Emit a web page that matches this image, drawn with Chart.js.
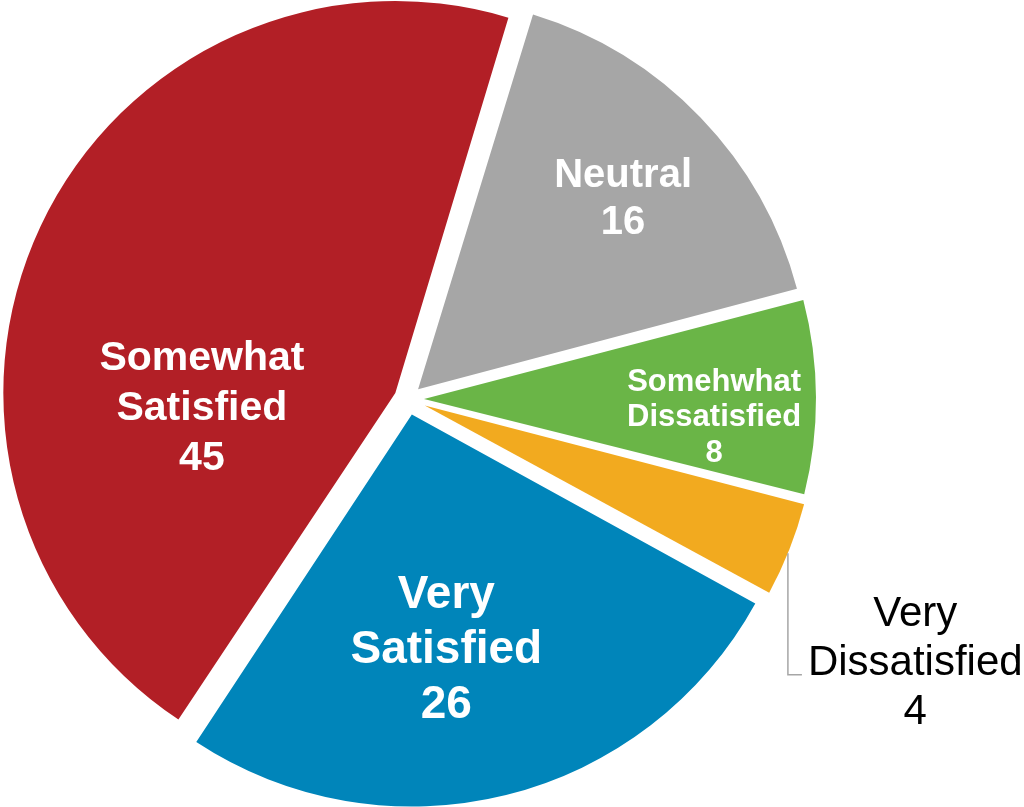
<!DOCTYPE html>
<html lang="en">
<head>
  <meta charset="UTF-8">
  <title>Satisfaction</title>
  <style>
    body, html {
      width: 100%;
      height: 100%;
      margin: 0;
      background-color: #ffffff;
      overflow: hidden;
    }

    #chart-container {
      width: 1024px;
      height: 807px;
    }
  </style>
</head>
<body>
  <div id="chart-container">
    <canvas id="satisfactionChart"></canvas>
  </div>

  <script src="https://cdn.jsdelivr.net/npm/chart.js"></script>
  <script>
    // slices run clockwise starting just right of 12 o'clock
    const categories = [
      ['Neutral'],
      ['Somehwhat', 'Dissatisfied'],
      ['Very', 'Dissatisfied'],
      ['Very', 'Satisfied'],
      ['Somewhat', 'Satisfied']
    ];
    const counts = [16, 8, 4, 26, 45];
    const sliceColors = ['#A6A6A6', '#6AB547', '#F2AA1F', '#0085BA', '#B21F26'];

    // explode distance per slice (arc moves out by offset / 4)
    const sliceOffsets = [56, 64, 72, 64, 56];
    const PIE_RADIUS = 392;

    // label placement: [angle from top in degrees, radius as fraction of pie radius]
    const labelPlacement = [[46.7, 0.754], [93.0, 0.782], [117.2, 1.455], [171.2, 0.639], [268.2, 0.526]];
    const labelStyle = [
      { size: 40, lineHeight: 47, bold: true, color: '#fff' },
      { size: 31, lineHeight: 35.5, bold: true, color: '#fff' },
      { size: 42, lineHeight: 49, bold: false, color: '#000' },
      { size: 46, lineHeight: 55, bold: true, color: '#fff' },
      { size: 41, lineHeight: 50, bold: true, color: '#fff' }
    ];

    // chart.js also grows narrow exploded slices outward; pull them back so all share one radius
    const evenRadius = {
      id: 'evenRadius',
      afterDatasetUpdate(chart, args) {
        const meta = args.meta;
        meta.data.forEach((arc, i) => {
          const t = (sliceOffsets[i] || 0) / 4;
          const fix = 1 - Math.sin(Math.min(Math.PI, arc.circumference || 0));
          arc.outerRadius = PIE_RADIUS - t * fix;
        });
      }
    };

    const sliceLabels = {
      id: 'sliceLabels',
      afterDatasetsDraw(chart) {
        const ctx = chart.ctx;
        const meta = chart.getDatasetMeta(0);
        const values = chart.data.datasets[0].data;
        const radius = meta.controller.outerRadius;
        ctx.save();
        meta.data.forEach((arc, i) => {
          const [deg, frac] = labelPlacement[i];
          const a = deg * Math.PI / 180;
          const r = radius * frac;
          const x = arc.x + r * Math.sin(a);
          const y = arc.y - r * Math.cos(a);
          const st = labelStyle[i];
          const lines = chart.data.labels[i].concat([String(values[i])]);
          const cap = st.size * 0.716;
          ctx.font = (st.bold ? 'bold ' : '') + st.size + 'px "Liberation Sans", Arial, sans-serif';
          ctx.fillStyle = st.color;
          ctx.textAlign = 'center';
          ctx.textBaseline = 'alphabetic';
          let widest = 0;
          lines.forEach((line, k) => {
            const by = y + (k - (lines.length - 1) / 2) * st.lineHeight + cap / 2;
            ctx.fillText(line, x, by);
            widest = Math.max(widest, ctx.measureText(line).width);
          });

          // the small slice gets its label outside with a leader line
          if (frac > 1) {
            const la = 112.1 * Math.PI / 180;
            const lr = radius * 1.046;
            const sx = arc.x + lr * Math.sin(la);
            const sy = arc.y - lr * Math.cos(la);
            const cornerY = y + cap / 2;
            ctx.strokeStyle = '#A6A6A6';
            ctx.lineWidth = 1.5;
            ctx.beginPath();
            ctx.moveTo(sx, sy);
            ctx.lineTo(sx, cornerY);
            ctx.lineTo(x - widest / 2 - 6, cornerY);
            ctx.stroke();
          }
        });
        ctx.restore();
      }
    };

    const ctx = document.getElementById('satisfactionChart').getContext('2d');
    new Chart(ctx, {
      type: 'pie',
      data: {
        labels: categories,
        datasets: [{
          data: counts,
          backgroundColor: sliceColors,
          borderWidth: 0,
          offset: sliceOffsets
        }]
      },
      options: {
        responsive: true,
        maintainAspectRatio: false,
        animation: false,
        rotation: 17,
        radius: PIE_RADIUS,
        layout: {
          padding: { left: 0, top: 0, right: 208, bottom: 9 }
        },
        plugins: {
          legend: { display: false },
          tooltip: { enabled: false }
        }
      },
      plugins: [evenRadius, sliceLabels]
    });
  </script>
</body>
</html>
